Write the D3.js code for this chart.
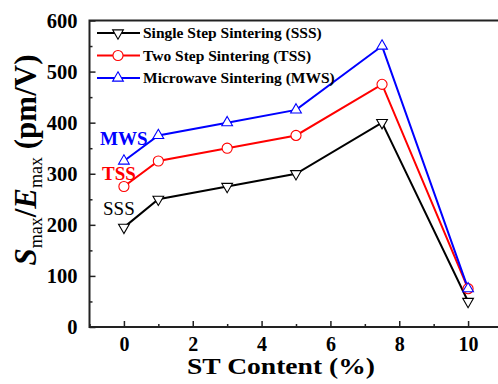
<!DOCTYPE html>
<html>
<head>
<meta charset="utf-8">
<script src="https://cdn.jsdelivr.net/npm/d3@7"></script>
<style>
  html, body { margin: 0; padding: 0; background: #fff; }
  svg { display: block; }
  svg text { font-family: "Liberation Serif", "Times New Roman", serif; }
</style>
</head>
<body>
<svg id="chart" width="498" height="384"></svg>
<script>
// ST content (%) at each measured composition
const stContent = [0, 1, 3, 5, 7.5, 10];
// Smax/Emax (pm/V) per sintering route
const sssValues = [195, 250, 275, 300, 400, 50];
const tssValues = [275, 325, 350, 375, 475, 75];
const mwsValues = [325, 375, 400, 425, 550, 75];

const seriesNames = ["Single Step Sintering (SSS)", "Two Step Sintering (TSS)", "Microwave Sintering (MWS)"];
const seriesShort = ["SSS", "TSS", "MWS"];
const seriesColors = ["#000000", "#ff0000", "#0000ff"];
const seriesMarkers = ["triangleDown", "circle", "triangleUp"];
const seriesValues = [sssValues, tssValues, mwsValues];

const xTicks = [0, 2, 4, 6, 8, 10];
const xMinorTicks = [-1, 1, 3, 5, 7, 9, 11];
const yTicks = [0, 100, 200, 300, 400, 500, 600];
const yMinorTicks = [50, 150, 250, 350, 450, 550];

const svg = d3.select("#chart");
const plotLeft = 89.5, plotTop = 20.5, plotBottom = 327, plotRight = 502.5;

const x = d3.scaleLinear().domain([-1, 11]).range([plotLeft, plotRight]);
const y = d3.scaleLinear().domain([0, 600]).range([plotBottom, plotTop]);

const axisColor = "#222";
const serif = "Liberation Serif, Times New Roman, serif";

// frame: bottom, left, top (right edge lies beyond the canvas)
const g = svg.append("g");
g.append("rect")
  .attr("x", plotLeft).attr("y", plotTop)
  .attr("width", plotRight - plotLeft).attr("height", plotBottom - plotTop)
  .attr("fill", "none").attr("stroke", axisColor).attr("stroke-width", 2);

// x axis ticks pointing inward
const xAxis = d3.axisBottom(x).tickValues(xTicks).tickSizeInner(-6).tickSizeOuter(0).tickPadding(10).tickFormat(d3.format("d"));
const xg = g.append("g").attr("transform", `translate(0,${plotBottom})`).call(xAxis);
xg.select(".domain").remove();
xg.selectAll(".tick line").attr("stroke", axisColor).attr("stroke-width", 1.5);
xg.selectAll(".tick text").attr("font-family", serif).attr("font-weight", "bold").attr("font-size", 20).attr("fill", "#000");
const xMinor = d3.axisBottom(x).tickValues(xMinorTicks).tickSizeInner(-3).tickSizeOuter(0).tickFormat("");
const xmg = g.append("g").attr("transform", `translate(0,${plotBottom})`).call(xMinor);
xmg.select(".domain").remove();
xmg.selectAll(".tick line").attr("stroke", axisColor).attr("stroke-width", 1.5);

// y axis ticks pointing inward
const yAxis = d3.axisLeft(y).tickValues(yTicks).tickSizeInner(-6).tickSizeOuter(0).tickPadding(12).tickFormat(d3.format("d"));
const yg = g.append("g").attr("transform", `translate(${plotLeft},0)`).call(yAxis);
yg.select(".domain").remove();
yg.selectAll(".tick line").attr("stroke", axisColor).attr("stroke-width", 1.5);
yg.selectAll(".tick text").attr("font-family", serif).attr("font-weight", "bold").attr("font-size", 20.5).attr("fill", "#000");
const yMinor = d3.axisLeft(y).tickValues(yMinorTicks).tickSizeInner(-3).tickSizeOuter(0).tickFormat("");
const ymg = g.append("g").attr("transform", `translate(${plotLeft},0)`).call(yMinor);
ymg.select(".domain").remove();
ymg.selectAll(".tick line").attr("stroke", axisColor).attr("stroke-width", 1.5);

// marker shapes
const markerPath = {
  triangleUp: d3.symbol().type(d3.symbolTriangle).size(50)(),
  circle: d3.symbol().type(d3.symbolCircle).size(80)(),
  triangleDown: d3.symbol().type(d3.symbolTriangle).size(50)()
};
function drawMarker(sel, kind, color, cx, cy) {
  sel.append("path")
    .attr("d", markerPath[kind])
    .attr("transform", `translate(${cx},${cy})` + (kind === "triangleDown" ? " rotate(180)" : ""))
    .attr("fill", "#fff").attr("stroke", color).attr("stroke-width", 1.1);
}

const line = d3.line().x(d => x(d[0])).y(d => y(d[1]));

// series lines then markers
seriesValues.forEach((vals, i) => {
  const pts = stContent.map((c, k) => [c, vals[k]]);
  g.append("path").datum(pts).attr("d", line)
    .attr("fill", "none").attr("stroke", seriesColors[i]).attr("stroke-width", 2);
});
seriesValues.forEach((vals, i) => {
  const mg = g.append("g");
  stContent.forEach((c, k) => drawMarker(mg, seriesMarkers[i], seriesColors[i], x(c), y(vals[k])));
});

// legend
const legendY = [33, 55.5, 78];
seriesNames.forEach((name, i) => {
  const lg = g.append("g");
  lg.append("line").attr("x1", 97).attr("x2", 140).attr("y1", legendY[i]).attr("y2", legendY[i])
    .attr("stroke", seriesColors[i]).attr("stroke-width", 2);
  drawMarker(lg, seriesMarkers[i], seriesColors[i], 118, legendY[i]);
  lg.append("text").attr("x", 143).attr("y", legendY[i]).attr("dy", "0.35em")
    .attr("font-family", serif).attr("font-weight", "bold").attr("font-size", 15.5).attr("fill", "#000").text(name);
});

// in-plot series tags
const tagPos = [[103, 215, "normal"], [102, 180, "bold"], [100, 145, "bold"]];
seriesShort.forEach((s, i) => {
  g.append("text").attr("x", tagPos[i][0]).attr("y", tagPos[i][1])
    .attr("font-family", serif).attr("font-weight", tagPos[i][2]).attr("font-size", 19).attr("fill", seriesColors[i]).text(s);
});

// axis titles
svg.append("text").attr("x", 187).attr("y", 374)
  .attr("font-family", serif).attr("font-weight", "bold").attr("font-size", 23).attr("fill", "#000")
  .attr("textLength", 188).attr("lengthAdjust", "spacingAndGlyphs")
  .text("ST Content (%)");

const yt = svg.append("text").attr("transform", "translate(36,160) rotate(-90)")
  .attr("text-anchor", "middle").attr("font-family", serif).attr("font-weight", "bold").attr("font-size", 31).attr("fill", "#000");
yt.append("tspan").attr("font-style", "italic").text("S");
yt.append("tspan").attr("font-size", 18).attr("font-weight", "normal").attr("dy", 6).text("max");
yt.append("tspan").attr("dy", -6).text("/");
yt.append("tspan").attr("font-style", "italic").text("E");
yt.append("tspan").attr("font-size", 18).attr("font-weight", "normal").attr("dy", 6).text("max");
yt.append("tspan").attr("dy", -6).text(" (pm/V)");
</script>
</body>
</html>
